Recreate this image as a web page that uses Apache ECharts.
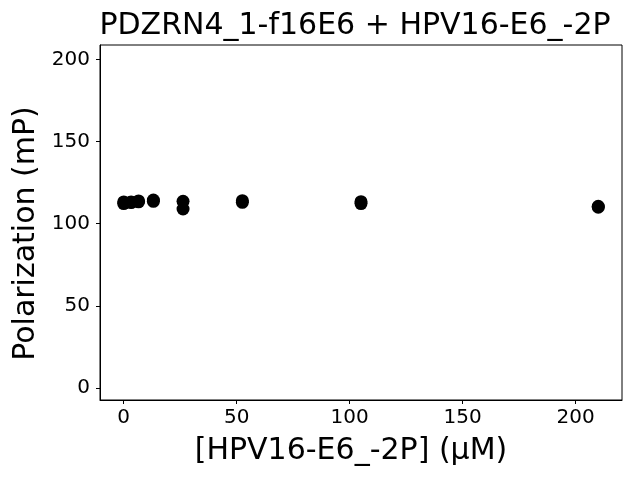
<!DOCTYPE html>
<html><head><meta charset="utf-8">
<script src="https://cdn.jsdelivr.net/npm/echarts@6/dist/echarts.min.js"></script>
<style>html,body{margin:0;padding:0;background:#fff}#c{width:640px;height:480px}</style>
</head><body><div id="c"></div>
<script>
const concentrations = [0, 0, 3.28, 3.28, 6.56, 6.56, 13.125, 13.125, 26.25, 26.25, 52.5, 52.5, 105, 105, 210, 210];
const polarization = [113.2, 112.2, 112.8, 113.2, 113.3, 113.8, 113.6, 114.4, 113.6, 108.9, 113.0, 114.0, 112.2, 113.4, 110.0, 110.6];
const xTicks = [0, 50, 100, 150, 200];
const yTicks = [0, 50, 100, 150, 200];
const titleText = 'PDZRN4_1-f16E6 + HPV16-E6_-2P';
const xLabel = '[HPV16-E6_-2P] (μM)';
const yLabel = 'Polarization (mP)';

const font = 'DejaVu Sans';
const chart = echarts.init(document.getElementById('c'), null, {renderer: 'canvas'});
chart.setOption({
  animation: false,
  title: {text: titleText, left: 350, top: 6, textAlign: 'center',
    textStyle: {fontFamily: font, fontSize: 30, fontWeight: 'normal', color: '#000'}},
  grid: {left: 100, right: 18, top: 45, bottom: 80, show: true, borderColor: '#000', borderWidth: 1,
    backgroundColor: 'transparent', outerBoundsMode: 'none', containLabel: false},
  xAxis: {type: 'value', min: -10.5, max: 220.5,
    name: xLabel, nameLocation: 'middle', nameGap: 36,
    nameTextStyle: {fontFamily: font, fontSize: 30, color: '#000', padding: [0, 20, 0, 0]},
    axisLine: {show: true, onZero: false, lineStyle: {color: '#000', width: 1}},
    axisTick: {show: true, inside: false, length: 4, customValues: xTicks, lineStyle: {color: '#000'}},
    axisLabel: {customValues: xTicks, fontFamily: font, fontSize: 20, color: '#000', margin: 8},
    splitLine: {show: false}},
  yAxis: {type: 'value', min: -7.3, max: 208.7,
    name: yLabel, nameLocation: 'middle', nameGap: 58, nameRotate: 90,
    nameTextStyle: {fontFamily: font, fontSize: 30, color: '#000', padding: [0, 22, 0, 0]},
    axisLine: {show: true, onZero: false, lineStyle: {color: '#000', width: 1}},
    axisTick: {show: true, inside: false, length: 4, customValues: yTicks, lineStyle: {color: '#000'}},
    axisLabel: {customValues: yTicks, fontFamily: font, fontSize: 20, color: '#000', margin: 10},
    splitLine: {show: false}},
  series: [{type: 'scatter', symbol: 'circle', symbolSize: 13,
    itemStyle: {color: '#000', opacity: 1},
    data: concentrations.map((c, i) => [c, polarization[i]])}]
});
</script></body></html>
